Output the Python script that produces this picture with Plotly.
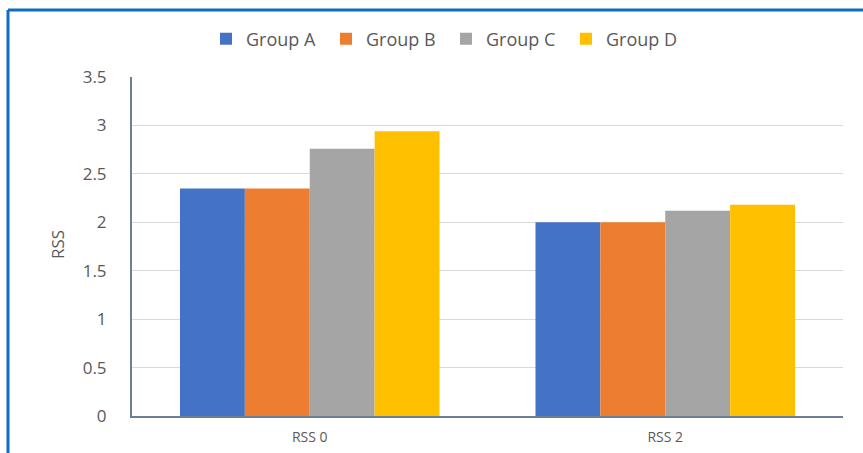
import plotly.graph_objects as go

# Categories and series values
categories = ["RSS 0", "RSS 2"]
group_a = [2.35, 2.0]
group_b = [2.35, 2.0]
group_c = [2.76, 2.12]
group_d = [2.94, 2.18]

series_names = ["Group A", "Group B", "Group C", "Group D"]
series_values = [group_a, group_b, group_c, group_d]
series_colors = ["#4472C4", "#ED7D31", "#A5A5A5", "#FFC000"]

y_ticks = [0, 0.5, 1, 1.5, 2, 2.5, 3, 3.5]
y_tick_text = ["0", "0.5", "1", "1.5", "2", "2.5", "3", "3.5"]

W, H = 863, 453
ML, MR, MT, MB = 132, 20, 77, 37
PW, PH = W - ML - MR, H - MT - MB


def px_x(x):
    return (x - ML) / PW


def px_y(y):
    return (H - MB - y) / PH


FONT = "Open Sans"
TXT = "#595959"

fig = go.Figure()
for name, vals, col in zip(series_names, series_values, series_colors):
    fig.add_trace(go.Bar(name=name, x=categories, y=vals,
                         marker=dict(color=col, line=dict(width=0))))

# Outer frame (top and left edge)
frame = "#0A6FC2"
fig.add_shape(type="line", xref="paper", yref="paper",
              x0=px_x(8), x1=px_x(870), y0=px_y(10), y1=px_y(10),
              line=dict(color=frame, width=3))
fig.add_shape(type="line", xref="paper", yref="paper",
              x0=px_x(8), x1=px_x(8), y0=px_y(10), y1=px_y(460),
              line=dict(color=frame, width=3))

# Y-axis title
fig.add_annotation(text="RSS", xref="paper", yref="paper",
                   x=px_x(57), y=px_y(245), showarrow=False, textangle=-90,
                   font=dict(family=FONT, size=17, color=TXT),
                   xanchor="center", yanchor="middle")

fig.update_layout(
    width=W, height=H,
    margin=dict(l=ML, r=MR, t=MT, b=MB, autoexpand=False),
    paper_bgcolor="white", plot_bgcolor="white",
    barmode="group", bargap=0.27, bargroupgap=0,
    font=dict(family=FONT, color=TXT),
    showlegend=True,
    legend=dict(orientation="h", x=px_x(446), y=px_y(39),
                xanchor="center", yanchor="middle",
                font=dict(family=FONT, size=18, color=TXT),
                entrywidthmode="pixels", entrywidth=75,
                itemwidth=30, tracegroupgap=0,
                bgcolor="rgba(0,0,0,0)"),
    xaxis=dict(showgrid=False, showline=True, linecolor="#6B7F99", linewidth=2,
               ticks="", tickfont=dict(family=FONT, size=14, color=TXT),
               ticklabelstandoff=7, automargin=False, fixedrange=True),
    yaxis=dict(range=[0, 3.5], tickvals=y_ticks, ticktext=y_tick_text,
               showgrid=True, gridcolor="#D9D9D9", gridwidth=1,
               showline=True, linecolor="#6B7F99", linewidth=2,
               zeroline=False, ticks="",
               tickfont=dict(family=FONT, size=17, color=TXT),
               ticklabelstandoff=20, automargin=False, fixedrange=True),
)

fig.write_html("out.html", config={"displayModeBar": False})
